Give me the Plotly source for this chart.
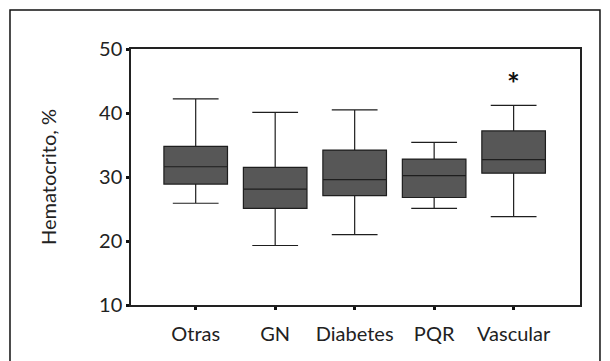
import plotly.graph_objects as go

categories = ["Otras", "GN", "Diabetes", "PQR", "Vascular"]
positions = [0, 1, 2, 3, 4]
lower_whisker = [25.9, 19.3, 21.0, 25.1, 23.8]
q1 = [28.9, 25.1, 27.1, 26.8, 30.6]
median = [31.6, 28.1, 29.6, 30.2, 32.7]
q3 = [34.8, 31.5, 34.2, 32.8, 37.2]
upper_whisker = [42.2, 40.1, 40.5, 35.4, 41.2]
y_ticks = [10, 20, 30, 40, 50]
star_value = 44.7
star_category = 4

FONT = "Lato, 'Open Sans', sans-serif"

fig = go.Figure()
fig.add_trace(go.Box(
    x=positions,
    q1=q1, median=median, q3=q3,
    lowerfence=lower_whisker, upperfence=upper_whisker,
    width=0.8, whiskerwidth=0.72,
    fillcolor="#575757",
    line=dict(color="#1e1e1e", width=1.2),
    boxpoints=False, hoverinfo="skip", showlegend=False,
))

fig.add_annotation(x=star_category, y=star_value, text="<b>*</b>", showarrow=False,
                   font=dict(family=FONT, size=30, color="#111"), yanchor="middle")

fig.add_shape(type="rect", xref="paper", yref="paper",
              x0=-0.2695, x1=1.0445, y0=-0.35, y1=1.152,
              line=dict(color="#111", width=1.5), layer="below")

fig.update_layout(
    width=602, height=353,
    margin=dict(l=123, r=30, t=41, b=56),
    paper_bgcolor="white", plot_bgcolor="white",
    font=dict(family=FONT, color="#222", size=19),
)
fig.update_xaxes(
    range=[-0.814, 4.835], tickvals=positions, ticktext=categories,
    showgrid=False, zeroline=False,
    showline=True, linecolor="#222", linewidth=1.5, mirror=True,
    ticks="outside", ticklen=3, tickwidth=3, tickcolor="#111",
    ticklabelstandoff=7,
    tickfont=dict(family=FONT, size=20, color="#222"),
)
fig.update_yaxes(
    range=[10, 50], tickvals=y_ticks,
    showgrid=False, zeroline=False,
    showline=True, linecolor="#222", linewidth=1.5, mirror=True,
    ticks="outside", ticklen=3, tickwidth=3, tickcolor="#111",
    tickfont=dict(family=FONT, size=20, color="#222"),
    title=dict(text="Hematocrito, %", font=dict(family=FONT, size=20, color="#222"), standoff=37),
)

fig.write_html("out.html")
